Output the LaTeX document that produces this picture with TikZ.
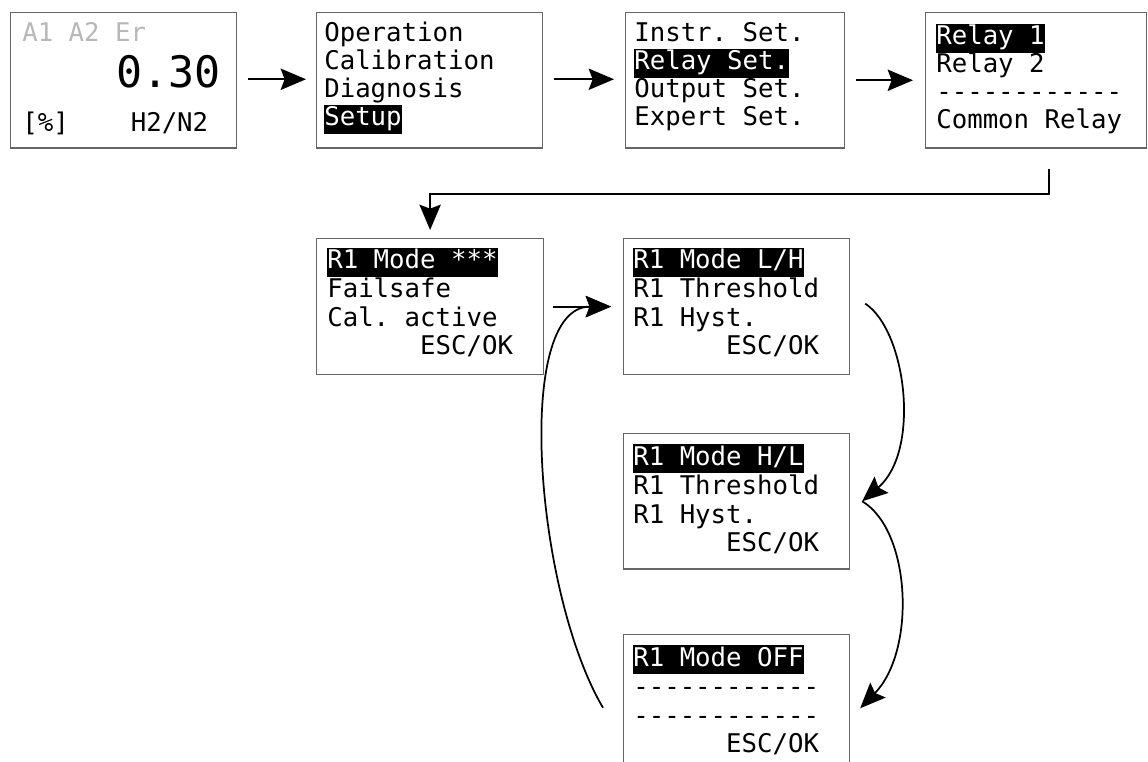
\documentclass[tikz,border=0pt]{standalone}
\usepackage{fontspec}
\setmonofont{DejaVu Sans Mono}
\usetikzlibrary{arrows.meta,calc}
\definecolor{boxgray}{gray}{0.4}
\definecolor{dimtext}{gray}{0.72}
\newcommand\hlt[1]{{\setlength{\fboxsep}{0pt}\colorbox{black}{\rule[-6pt]{0pt}{21.75pt}\textcolor{white}{#1}}}}
\begin{document}
\begin{tikzpicture}[x=0.75pt,y=-0.75pt,
  box/.style={draw=boxgray, line width=0.9pt, inner sep=0pt, anchor=north west, minimum height=101.5pt},
  ln/.style={anchor=base west, inner sep=0pt, font=\ttfamily\fontsize{19.3pt}{21pt}\selectfont},
  arr/.style={line width=1.5pt, -{Stealth[length=19pt,width=16pt,inset=3pt]}},
  carr/.style={line width=1.3pt, -{Stealth[length=19pt,width=16pt,inset=3pt]}}]
\clip (0,0) rectangle (1148,762);
\fill[white] (0,0) rectangle (1148,762);

% boxes
\node[box, minimum width=169.5pt] (b0) at (10,12) {};
\node[box, minimum width=169.5pt] (b1) at (316,12) {};
\node[box, minimum width=164.25pt] (b2) at (625,12) {};
\node[box, minimum width=165.75pt] (b3) at (925,12) {};
\node[box, minimum width=170.25pt, minimum height=102pt] (b4) at (316,238) {};
\node[box, minimum width=169.5pt, minimum height=102pt] (b5) at (623,238) {};
\node[box, minimum width=169.5pt] (b6) at (623,433) {};
\node[box, minimum width=169.5pt] (b7) at (623,634) {};

% box 0
\node[ln, text=dimtext] (b0a) at ($(b0.north west)+(12,30)$) {A1 A2 Er};
\node[ln, anchor=base east, font=\ttfamily\fontsize{32.5pt}{34pt}\selectfont] (b0b) at ($(b0.north west)+(211,76)$) {0.30};
\node[ln] (b0c) at ($(b0.north west)+(12,119.5)$) {[\%]};
\node[ln] (b0d) at ($(b0.north west)+(120.5,119.5)$) {H2/N2};

% box 1
\node[ln] (b1a) at ($(b1.north west)+(8,30)$) {Operation};
\node[ln] (b1b) at ($(b1.north west)+(8,58)$) {Calibration};
\node[ln] (b1c) at ($(b1.north west)+(8,86)$) {Diagnosis};
\node[ln] (b1d) at ($(b1.north west)+(8,114)$) {\hlt{Setup}};

% box 2
\node[ln] (b2a) at ($(b2.north west)+(9,30)$) {Instr. Set.};
\node[ln] (b2b) at ($(b2.north west)+(9,58)$) {\hlt{Relay Set.}};
\node[ln] (b2c) at ($(b2.north west)+(9,86)$) {Output Set.};
\node[ln] (b2d) at ($(b2.north west)+(9,114)$) {Expert Set.};

% box 3
\node[ln] (b3a) at ($(b3.north west)+(11,33)$) {\hlt{Relay 1}};
\node[ln] (b3b) at ($(b3.north west)+(11,61)$) {Relay 2};
\node[ln] (b3c) at ($(b3.north west)+(11,89)$) {------------};
\node[ln] (b3d) at ($(b3.north west)+(11,117)$) {Common Relay};

% box 4
\node[ln] (b4a) at ($(b4.north west)+(11,31)$) {\hlt{R1 Mode ***}};
\node[ln] (b4b) at ($(b4.north west)+(11,60)$) {Failsafe};
\node[ln] (b4c) at ($(b4.north west)+(11,89)$) {Cal. active};
\node[ln] (b4d) at ($(b4.north west)+(11,117)$) {\phantom{000000}ESC/OK};

% box 5
\node[ln] (b5a) at ($(b5.north west)+(10,31)$) {\hlt{R1 Mode L/H}};
\node[ln] (b5b) at ($(b5.north west)+(10,60)$) {R1 Threshold};
\node[ln] (b5c) at ($(b5.north west)+(10,89)$) {R1 Hyst.};
\node[ln] (b5d) at ($(b5.north west)+(10,117)$) {\phantom{000000}ESC/OK};

% box 6
\node[ln] (b6a) at ($(b6.north west)+(10,32)$) {\hlt{R1 Mode H/L}};
\node[ln] (b6b) at ($(b6.north west)+(10,61)$) {R1 Threshold};
\node[ln] (b6c) at ($(b6.north west)+(10,90)$) {R1 Hyst.};
\node[ln] (b6d) at ($(b6.north west)+(10,118)$) {\phantom{000000}ESC/OK};

% box 7
\node[ln] (b7a) at ($(b7.north west)+(10,32)$) {\hlt{R1 Mode OFF}};
\node[ln] (b7b) at ($(b7.north west)+(10,61)$) {------------};
\node[ln] (b7c) at ($(b7.north west)+(10,90)$) {------------};
\node[ln] (b7d) at ($(b7.north west)+(10,118)$) {\phantom{000000}ESC/OK};

% connectors
\draw[arr] ($(b0.east)+(11,-1)$) -- ($(b1.west)+(-10,-1)$);
\draw[arr] ($(b1.east)+(11,-1)$) -- ($(b2.west)+(-11,-1)$);
\draw[arr] ($(b2.east)+(11,0)$) -- ($(b3.west)+(-12,0)$);
\draw[arr] ($(b3.south)+(13,20)$) -- ++(0,25) -| ($(b4.north)+(0,-8)$);
\draw[arr] ($(b4.east)+(9,0)$) -- ($(b5.west)+(-12,0)$);
\draw[carr] ($(b7.west)+(-20,5.5)$) .. controls ($(b7.west)+(-88,-110)$) and ($(b5.west)+(-110,0)$) .. ($(b5.west)+(-12,0)$);
\draw[carr] ($(b5.east)+(15,-3)$) .. controls ($(b5.east)+(56,24)$) and ($(b6.east)+(71,-50.5)$) .. ($(b6.east)+(12,0)$);
\draw[carr] ($(b6.east)+(12,0)$) .. controls ($(b6.east)+(61,29.5)$) and ($(b7.east)+(66,-51.5)$) .. ($(b7.east)+(10,6)$);
\end{tikzpicture}
\end{document}
